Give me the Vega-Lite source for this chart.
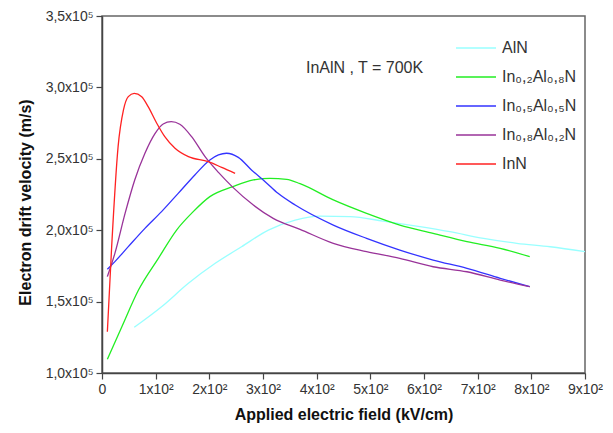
{
  "$schema": "https://vega.github.io/schema/vega-lite/v6.json",
  "width": 483,
  "height": 357,
  "autosize": "none",
  "padding": {"left": 102, "top": 16, "right": 28, "bottom": 60},
  "background": "white",
  "config": {
    "font": "Liberation Sans",
    "view": {"stroke": "#666666", "strokeWidth": 1.5},
    "axis": {
      "domainColor": "#444444",
      "domainWidth": 1.5,
      "tickColor": "#444444",
      "tickWidth": 1.2,
      "labelFont": "Liberation Sans",
      "labelFontSize": 14,
      "labelColor": "#333333",
      "titleFont": "Liberation Sans",
      "titleFontSize": 16,
      "titleFontWeight": "bold",
      "titleColor": "#111111",
      "grid": false
    }
  },
  "datasets": {
    "curves": [
      {"s": "AlN", "x": 60, "y": 132000},
      {"s": "AlN", "x": 111, "y": 146400},
      {"s": "AlN", "x": 161, "y": 162800},
      {"s": "AlN", "x": 211, "y": 176800},
      {"s": "AlN", "x": 260, "y": 188400},
      {"s": "AlN", "x": 310, "y": 200100},
      {"s": "AlN", "x": 360, "y": 207100},
      {"s": "AlN", "x": 406, "y": 209900},
      {"s": "AlN", "x": 462, "y": 209500},
      {"s": "AlN", "x": 524, "y": 206400},
      {"s": "AlN", "x": 586, "y": 202900},
      {"s": "AlN", "x": 648, "y": 199000},
      {"s": "AlN", "x": 711, "y": 194300},
      {"s": "AlN", "x": 773, "y": 190800},
      {"s": "AlN", "x": 835, "y": 188400},
      {"s": "AlN", "x": 900, "y": 185000},

      {"s": "In0.2Al0.8N", "x": 10, "y": 109600},
      {"s": "In0.2Al0.8N", "x": 37, "y": 132400},
      {"s": "In0.2Al0.8N", "x": 68, "y": 158100},
      {"s": "In0.2Al0.8N", "x": 105, "y": 180300},
      {"s": "In0.2Al0.8N", "x": 139, "y": 200100},
      {"s": "In0.2Al0.8N", "x": 170, "y": 213000},
      {"s": "In0.2Al0.8N", "x": 201, "y": 223500},
      {"s": "In0.2Al0.8N", "x": 244, "y": 230500},
      {"s": "In0.2Al0.8N", "x": 282, "y": 235200},
      {"s": "In0.2Al0.8N", "x": 313, "y": 236300},
      {"s": "In0.2Al0.8N", "x": 344, "y": 235600},
      {"s": "In0.2Al0.8N", "x": 369, "y": 232600},
      {"s": "In0.2Al0.8N", "x": 431, "y": 221200},
      {"s": "In0.2Al0.8N", "x": 493, "y": 211800},
      {"s": "In0.2Al0.8N", "x": 555, "y": 203600},
      {"s": "In0.2Al0.8N", "x": 617, "y": 197800},
      {"s": "In0.2Al0.8N", "x": 680, "y": 192000},
      {"s": "In0.2Al0.8N", "x": 742, "y": 187300},
      {"s": "In0.2Al0.8N", "x": 797, "y": 181500},

      {"s": "In0.5Al0.5N", "x": 10, "y": 172600},
      {"s": "In0.5Al0.5N", "x": 24, "y": 178000},
      {"s": "In0.5Al0.5N", "x": 49, "y": 188500},
      {"s": "In0.5Al0.5N", "x": 80, "y": 201300},
      {"s": "In0.5Al0.5N", "x": 111, "y": 213000},
      {"s": "In0.5Al0.5N", "x": 142, "y": 225800},
      {"s": "In0.5Al0.5N", "x": 173, "y": 238700},
      {"s": "In0.5Al0.5N", "x": 201, "y": 249200},
      {"s": "In0.5Al0.5N", "x": 217, "y": 252700},
      {"s": "In0.5Al0.5N", "x": 232, "y": 253900},
      {"s": "In0.5Al0.5N", "x": 254, "y": 251000},
      {"s": "In0.5Al0.5N", "x": 279, "y": 242000},
      {"s": "In0.5Al0.5N", "x": 304, "y": 234000},
      {"s": "In0.5Al0.5N", "x": 328, "y": 225800},
      {"s": "In0.5Al0.5N", "x": 360, "y": 217600},
      {"s": "In0.5Al0.5N", "x": 431, "y": 203600},
      {"s": "In0.5Al0.5N", "x": 493, "y": 194300},
      {"s": "In0.5Al0.5N", "x": 555, "y": 186100},
      {"s": "In0.5Al0.5N", "x": 617, "y": 179100},
      {"s": "In0.5Al0.5N", "x": 680, "y": 173300},
      {"s": "In0.5Al0.5N", "x": 742, "y": 166300},
      {"s": "In0.5Al0.5N", "x": 797, "y": 160400},

      {"s": "In0.8Al0.2N", "x": 10, "y": 167500},
      {"s": "In0.8Al0.2N", "x": 24, "y": 183800},
      {"s": "In0.8Al0.2N", "x": 43, "y": 211800},
      {"s": "In0.8Al0.2N", "x": 61, "y": 235200},
      {"s": "In0.8Al0.2N", "x": 80, "y": 253900},
      {"s": "In0.8Al0.2N", "x": 99, "y": 267800},
      {"s": "In0.8Al0.2N", "x": 114, "y": 274400},
      {"s": "In0.8Al0.2N", "x": 129, "y": 276000},
      {"s": "In0.8Al0.2N", "x": 145, "y": 274200},
      {"s": "In0.8Al0.2N", "x": 167, "y": 265500},
      {"s": "In0.8Al0.2N", "x": 192, "y": 251500},
      {"s": "In0.8Al0.2N", "x": 217, "y": 240500},
      {"s": "In0.8Al0.2N", "x": 244, "y": 230000},
      {"s": "In0.8Al0.2N", "x": 282, "y": 217600},
      {"s": "In0.8Al0.2N", "x": 319, "y": 208300},
      {"s": "In0.8Al0.2N", "x": 369, "y": 200600},
      {"s": "In0.8Al0.2N", "x": 431, "y": 190800},
      {"s": "In0.8Al0.2N", "x": 493, "y": 185000},
      {"s": "In0.8Al0.2N", "x": 555, "y": 180300},
      {"s": "In0.8Al0.2N", "x": 617, "y": 174400},
      {"s": "In0.8Al0.2N", "x": 680, "y": 170900},
      {"s": "In0.8Al0.2N", "x": 742, "y": 165100},
      {"s": "In0.8Al0.2N", "x": 797, "y": 160400},

      {"s": "InN", "x": 10, "y": 128900},
      {"s": "InN", "x": 18, "y": 188400},
      {"s": "InN", "x": 30, "y": 258500},
      {"s": "InN", "x": 40, "y": 284200},
      {"s": "InN", "x": 49, "y": 293500},
      {"s": "InN", "x": 60, "y": 295800},
      {"s": "InN", "x": 74, "y": 293500},
      {"s": "InN", "x": 86, "y": 286500},
      {"s": "InN", "x": 102, "y": 274900},
      {"s": "InN", "x": 117, "y": 265500},
      {"s": "InN", "x": 136, "y": 257400},
      {"s": "InN", "x": 161, "y": 251500},
      {"s": "InN", "x": 198, "y": 248000},
      {"s": "InN", "x": 223, "y": 244000},
      {"s": "InN", "x": 248, "y": 239800}
    ],
    "note": [
      {"x": 380, "y": 313600, "label": "InAlN , T = 700K"}
    ]
  },
  "layer": [
    {
      "data": {"name": "curves"},
      "mark": {"type": "line", "strokeWidth": 1.3, "interpolate": "monotone", "clip": true},
      "encoding": {
        "x": {
          "field": "x", "type": "quantitative",
          "scale": {"domain": [0, 900], "nice": false, "zero": false},
          "axis": {
            "title": "Applied electric field (kV/cm)",
            "values": [0, 50, 100, 150, 200, 250, 300, 350, 400, 450, 500, 550, 600, 650, 700, 750, 800, 850, 900],
            "labelExpr": "datum.value % 100 != 0 ? '' : (datum.value == 0 ? '0' : format(datum.value/100, 'd') + 'x10²')",
            "tickSize": {"condition": {"test": "datum.value % 100 == 0", "value": 6}, "value": 4},
            "labelPadding": 3,
            "titlePadding": 10,
            "labelFlush": false,
            "labelOverlap": false
          }
        },
        "y": {
          "field": "y", "type": "quantitative",
          "scale": {"domain": [100000, 350000], "nice": false, "zero": false},
          "axis": {
            "title": "Electron drift velocity (m/s)",
            "titleY": 186,
            "values": [100000, 125000, 150000, 175000, 200000, 225000, 250000, 275000, 300000, 325000, 350000],
            "labelExpr": "datum.value % 50000 != 0 ? '' : replace(format(datum.value/100000, '.1f'), '.', ',') + 'x10⁵'",
            "tickSize": {"condition": {"test": "datum.value % 50000 == 0", "value": 6}, "value": 4},
            "labelPadding": 3,
            "titlePadding": 12,
            "labelFlush": false,
            "labelOverlap": false
          }
        },
        "color": {
          "field": "s", "type": "nominal",
          "scale": {
            "domain": ["AlN", "In0.2Al0.8N", "In0.5Al0.5N", "In0.8Al0.2N", "InN"],
            "range": ["#99ffff", "#22ee22", "#3333ff", "#993399", "#ff2222"]
          },
          "legend": {
            "title": null,
            "orient": "none",
            "legendX": 353,
            "legendY": 11,
            "symbolType": "stroke",
            "symbolSize": 1600,
            "symbolStrokeWidth": 1.5,
            "labelFont": "Liberation Sans",
            "labelFontSize": 16,
            "labelColor": "#333333",
            "labelOffset": 5,
            "rowPadding": -16,
            "labelLimit": 200,
            "labelExpr": "datum.label == 'AlN' ? 'AlN' : datum.label == 'InN' ? 'InN' : datum.label == 'In0.2Al0.8N' ? 'In₀,₂Al₀,₈N' : datum.label == 'In0.5Al0.5N' ? 'In₀,₅Al₀,₅N' : 'In₀,₈Al₀,₂N'"
          }
        }
      }
    },
    {
      "data": {"name": "note"},
      "mark": {"type": "text", "align": "left", "baseline": "middle", "font": "Liberation Sans", "fontSize": 16, "color": "#333333"},
      "encoding": {
        "x": {"field": "x", "type": "quantitative"},
        "y": {"field": "y", "type": "quantitative"},
        "text": {"field": "label"}
      }
    }
  ]
}
